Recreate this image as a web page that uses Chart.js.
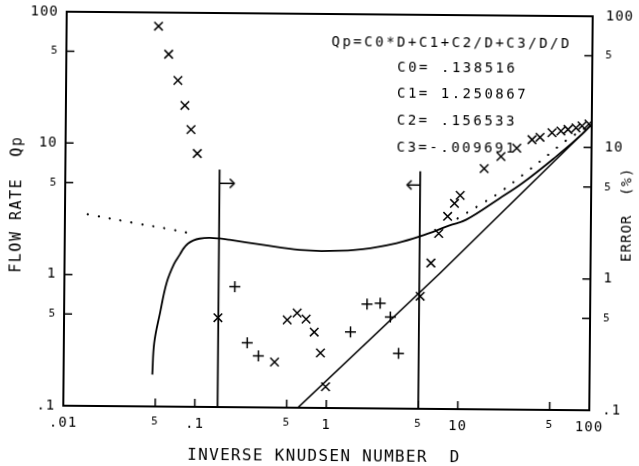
<!DOCTYPE html>
<html>
<head>
<meta charset="utf-8">
<script src="https://cdn.jsdelivr.net/npm/chart.js@4"></script>
<style>
  html, body { margin: 0; padding: 0; background: #fff; overflow: hidden; }
  /* the scanned original sits slightly skewed on the page */
  #wrap { width: 639px; height: 466px; position: relative; transform: rotate(0.5deg); transform-origin: 328px 211px; }
</style>
</head>
<body>
<div id="wrap"><canvas id="graficoQp"></canvas></div>
<script>
// axis ticks (log-log, decades plus the "5" marks)
var xTicks = [0.01, 0.05, 0.1, 0.5, 1, 5, 10, 50, 100];
var xTickLabels = ['.01', '5', '.1', '5', '1', '5', '10', '5', '100'];
var yTicks = [0.1, 0.5, 1, 5, 10, 50, 100];
var yTickLabels = ['.1', '5', '1', '5', '10', '5', '100'];

// fitted curve Qp(D)
var fitD  = [0.0473, 0.0487, 0.0537, 0.0600, 0.0680, 0.0752, 0.080, 0.0866, 0.095, 0.106, 0.125, 0.15, 0.179, 0.32, 0.612, 1.04, 1.85, 3.34, 5.07, 8.41, 11.3, 20.1, 29.9, 53.8, 84.3, 100];
var fitQp = [0.175, 0.306, 0.519, 0.88, 1.22, 1.44, 1.60, 1.75, 1.85, 1.91, 1.94, 1.92, 1.88, 1.73, 1.59, 1.57, 1.63, 1.82, 2.06, 2.5, 2.78, 4.05, 5.3, 8.5, 12.6, 15.1];

// straight asymptote
var lineD  = [0.607, 7.17, 100];
var lineQp = [0.1, 1.08, 15];

// dotted curve (two visible pieces)
var dotD  = [0.0149, 0.035, 0.059, 0.10, null, 9.68, 14.9, 20.1, 30.3, 50.0, 61.7, 100];
var dotQp = [2.88, 2.47, 2.27, 2.05, null, 2.83, 3.70, 4.49, 6.16, 9.23, 11.0, 15.2];

// x markers
var crossD   = [0.050, 0.060, 0.0708, 0.0803, 0.0897, 0.1005, 0.148, 0.401, 0.498, 0.592, 0.693, 0.80, 0.895, 0.984,
                5.09, 6.11, 6.97, 8.13, 9.15, 10.1, 15.3, 20.5, 27.0, 35.2, 40.5, 49.9, 58.3, 66, 75.9, 84.3, 95.2];
var crossVal = [78.7, 48.2, 30.5, 19.7, 12.9, 8.5, 0.479, 0.222, 0.466, 0.527, 0.474, 0.378, 0.262, 0.145,
                0.72, 1.29, 2.17, 2.93, 3.68, 4.24, 6.82, 8.43, 9.8, 11.4, 11.9, 12.9, 13.3, 13.7, 14.1, 14.6, 15.1];

// + markers
var plusD   = [0.198, 0.248, 0.302, 1.51, 2.01, 2.53, 3.03, 3.51];
var plusVal = [0.826, 0.31, 0.247, 0.38, 0.622, 0.634, 0.497, 0.264];

// validity range bounds with arrows
var boundD = [0.149, 5.0];
var boundTop = 6.43;
var arrowQp = 5.05;
var arrowTipD = [0.193, 3.98];

var formulaText = 'Qp=C0*D+C1+C2/D+C3/D/D';
var coefLines = ['C0= .138516', 'C1= 1.250867', 'C2= .156533', 'C3=-.009691'];

var monoFont = '"DejaVu Sans Mono", monospace';

function toPoints(xs, ys) {
    return xs.map(function (x, i) { return { x: x, y: ys[i] }; });
}

function makeArrowHead() {
    var c = document.createElement('canvas');
    c.width = 12; c.height = 12;
    var g = c.getContext('2d');
    g.strokeStyle = '#000';
    g.lineWidth = 1.5;
    g.beginPath();
    g.moveTo(1.5, 1.5);
    g.lineTo(6, 6);
    g.lineTo(1.5, 10.5);
    g.stroke();
    return c;
}
var arrowHead = makeArrowHead();

function lineSet(points, width) {
    return {
        data: points,
        showLine: true,
        borderColor: '#000',
        borderWidth: width,
        pointRadius: 0,
        tension: 0,
        fill: false
    };
}

function arrowSet(fromD, toD, rot) {
    return {
        data: [{ x: fromD, y: arrowQp }, { x: toD, y: arrowQp }],
        showLine: true,
        borderColor: '#000',
        borderWidth: 1.5,
        pointStyle: arrowHead,
        pointRotation: rot,
        pointRadius: function (c) { return c.dataIndex === 1 ? 3 : 0; },
        fill: false
    };
}

var plotterPlugin = {
    id: 'plotter',
    beforeDraw: function (chart) {
        var ctx = chart.ctx;
        ctx.save();
        ctx.fillStyle = '#fff';
        ctx.fillRect(0, 0, chart.width, chart.height);
        ctx.restore();
        ctx.letterSpacing = '1px';
    },
    afterDraw: function (chart) {
        var ctx = chart.ctx, a = chart.chartArea;
        var sx = chart.scales.x, sy = chart.scales.y;
        ctx.save();
        ctx.strokeStyle = '#000';
        ctx.lineWidth = 2;
        ctx.strokeRect(a.left, a.top, a.right - a.left, a.bottom - a.top);

        // inward tick marks
        ctx.lineWidth = 1.5;
        ctx.beginPath();
        xTicks.forEach(function (v) {
            var p = sx.getPixelForValue(v);
            if (p <= a.left + 1 || p >= a.right - 1) return;
            ctx.moveTo(p, a.bottom); ctx.lineTo(p, a.bottom - 8);
        });
        yTicks.forEach(function (v) {
            var p = sy.getPixelForValue(v);
            if (p <= a.top + 1 || p >= a.bottom - 1) return;
            ctx.moveTo(a.left, p); ctx.lineTo(a.left + 8, p);
            ctx.moveTo(a.right, p); ctx.lineTo(a.right - 8, p);
        });
        ctx.stroke();

        ctx.fillStyle = '#000';
        ctx.textBaseline = 'middle';

        // fit formula
        ctx.textAlign = 'left';
        ctx.font = '14px ' + monoFont;
        ctx.letterSpacing = '2.5px';
        ctx.fillText(formulaText, a.left + 265, a.top + 28);
        coefLines.forEach(function (t, i) {
            ctx.fillText(t, a.left + 331, a.top + 53 + i * 26.7);
        });

        // axis titles
        ctx.textAlign = 'center';
        ctx.font = '16px ' + monoFont;
        ctx.letterSpacing = '1.3px';
        ctx.fillText('INVERSE KNUDSEN NUMBER  D', 326, 457);

        ctx.save();
        ctx.translate(17, 207);
        ctx.rotate(-Math.PI / 2);
        ctx.font = '15px ' + monoFont;
        ctx.letterSpacing = '1.5px';
        ctx.fillText('FLOW RATE  Qp', 0, 0);
        ctx.restore();

        ctx.save();
        ctx.translate(627, 212);
        ctx.rotate(-Math.PI / 2);
        ctx.font = '14px ' + monoFont;
        ctx.letterSpacing = '1px';
        ctx.fillText('ERROR  (%)', 0, 0);
        ctx.restore();

        ctx.restore();
    }
};

function tickFont(c) {
    var small = c.tick && c.tick.label === '5';
    return { family: monoFont, size: small ? 11 : 14 };
}

function logAxis(ticks, labels, extra) {
    var axis = {
        type: 'logarithmic',
        afterBuildTicks: function (s) {
            s.ticks = ticks.map(function (v) { return { value: v }; });
        },
        grid: { display: false, drawTicks: false },
        border: { display: false },
        ticks: {
            autoSkip: false,
            maxRotation: 0,
            minRotation: 0,
            color: '#000',
            font: tickFont,
            callback: function (v) { return labels[ticks.indexOf(v)]; }
        }
    };
    for (var k in extra) axis[k] = extra[k];
    return axis;
}

// fixed axis sizes so the plot box lands where the original has it
function fixSize(w, h) {
    return function (s) {
        if (w) s.width = w;
        if (h) s.height = h;
        s.paddingTop = 0; s.paddingBottom = 0;
        s.paddingLeft = 0; s.paddingRight = 0;
    };
}

var xAxis = logAxis(xTicks, xTickLabels, { position: 'bottom', min: 0.01, max: 100, afterFit: fixSize(0, 58) });
xAxis.ticks.padding = 9;
var yAxis = logAxis(yTicks, yTickLabels, { position: 'left', min: 0.1, max: 100, afterFit: fixSize(65, 0) });
yAxis.ticks.padding = 8;
var y2Axis = logAxis(yTicks, yTickLabels, { position: 'right', min: 0.1, max: 100, afterFit: fixSize(48, 0) });
y2Axis.ticks.padding = 13;

var curveSet = lineSet(toPoints(fitD, fitQp), 1.8);
curveSet.tension = 0.4;

var dotSet = lineSet(toPoints(dotD, dotQp), 2.2);
dotSet.borderDash = [0.1, 11];
dotSet.borderCapStyle = 'round';
dotSet.tension = 0.35;
dotSet.spanGaps = false;

var datasets = [
    {
        data: toPoints(crossD, crossVal),
        showLine: false,
        pointStyle: 'crossRot',
        pointRadius: 6,
        pointBorderColor: '#000',
        pointBorderWidth: 1.5
    },
    {
        data: toPoints(plusD, plusVal),
        showLine: false,
        pointStyle: 'cross',
        pointRadius: 5.5,
        pointBorderColor: '#000',
        pointBorderWidth: 1.5
    },
    curveSet,
    lineSet(toPoints(lineD, lineQp), 1.6),
    dotSet,
    lineSet([{ x: boundD[0], y: 0.1 }, { x: boundD[0], y: boundTop }], 1.8),
    lineSet([{ x: boundD[1], y: 0.1 }, { x: boundD[1], y: boundTop }], 1.8),
    arrowSet(boundD[0], arrowTipD[0], 0),
    arrowSet(boundD[1], arrowTipD[1], 180)
];

var ctx = document.getElementById('graficoQp');
var grafico = new Chart(ctx, {
    type: 'scatter',
    data: { datasets: datasets },
    options: {
        responsive: true,
        maintainAspectRatio: false,
        animation: false,
        layout: { padding: { top: 14, left: 0, right: 0, bottom: 0 } },
        plugins: {
            legend: { display: false },
            tooltip: { enabled: false }
        },
        scales: {
            x: xAxis,
            y: yAxis,
            y2: y2Axis
        }
    },
    plugins: [plotterPlugin]
});
</script>
</body>
</html>
